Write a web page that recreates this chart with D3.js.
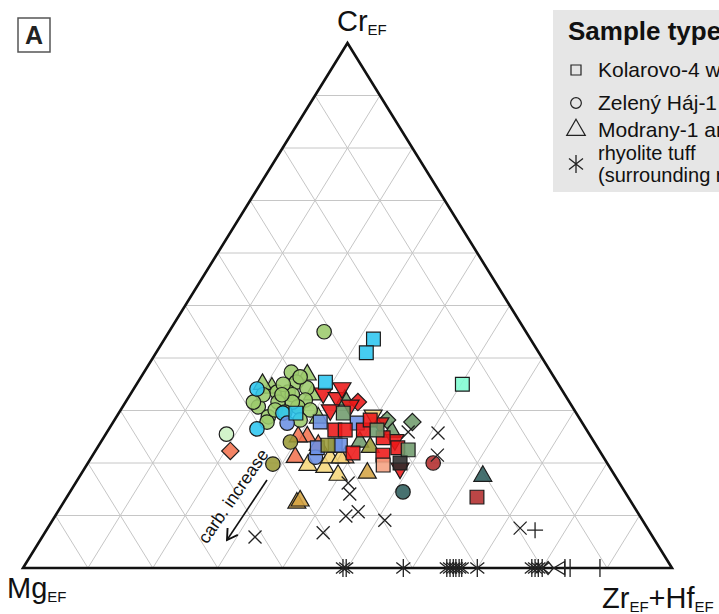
<!DOCTYPE html>
<html>
<head>
<meta charset="utf-8">
<script src="https://cdn.jsdelivr.net/npm/d3@7"></script>
<style>
  body { margin: 0; background: #fff; }
  svg { display: block; font-family: Arial, "Liberation Sans", sans-serif; }
</style>
</head>
<body>
<div id="chart"></div>
<script>
// ternary values in percent: [Cr_EF, Mg_EF, Zr_EF+Hf_EF, sample]
var trianglesUp = [
  [36.8, 37.8, 25.4, "s1"], [34.3, 44.5, 21.2, "s1"], [28.6, 40.2, 31.2, "s1"], [33, 38.9, 28.1, "s1"], [35, 45.6, 19.4, "s1"],
  [32, 34.4, 33.6, "s5"], [25.9, 30.2, 43.9, "s5"], [24, 36.1, 39.9, "s5"],
  [21.1, 47.5, 31.4, "s7"], [25, 43.7, 31.3, "s7"], [25, 45.1, 29.9, "s7"], [23.4, 42.8, 33.8, "s7"],
  [21, 39.9, 39.1, "s15"], [23, 35, 42, "s9"],
  [19.6, 46.3, 34.1, "s10"], [19.2, 43.9, 36.9, "s10"], [17.7, 42.6, 39.7, "s10"], [21, 42.2, 36.8, "s10"], [21, 40.6, 38.4, "s10"],
  [18.1, 37.9, 44, "s11"], [12.4, 51.6, 36, "s11"], [12.8, 50.9, 36.3, "s11"],
  [17.5, 20.4, 62.1, "s12"]
]
var circles = [
  [45, 31.1, 23.9, "s1"], [37.3, 40, 22.7, "s1"], [35.4, 40.2, 24.4, "s1"], [33.5, 44.1, 22.4, "s1"], [33.5, 42.4, 24.1, "s1"],
  [34.3, 39.1, 26.6, "s1"], [30.7, 48.4, 20.9, "s1"], [28.8, 47.8, 23.4, "s1"], [27.8, 48.5, 23.7, "s1"], [31.6, 44.9, 23.5, "s1"],
  [33, 42, 25, "s1"], [32, 40.5, 27.5, "s1"], [30.7, 42.3, 27, "s1"], [31.6, 42.7, 25.7, "s1"], [30.1, 40.7, 29.2, "s1"],
  [35, 42.4, 22.6, "s1"], [36.4, 39.1, 24.5, "s1"], [33, 46.5, 20.5, "s1"], [30.1, 46.1, 23.8, "s1"], [29.7, 44.8, 25.5, "s1"],
  [31.6, 48.7, 19.7, "s1"], [28.2, 43.2, 28.6, "s1"], [33, 43.6, 23.4, "s1"],
  [34.1, 46.9, 19, "s2"], [26.5, 50.7, 22.8, "s2"], [29.5, 45.2, 25.3, "s2"],
  [27.6, 45.5, 26.9, "s3"], [21.1, 44.4, 34.5, "s3"],
  [25.5, 55.9, 18.6, "s8"],
  [19.8, 51.6, 28.6, "s9"], [24, 46.8, 29.2, "s9"],
  [14.5, 34.2, 51.3, "s12"], [20, 26.8, 53.2, "s13"]
]
var diamonds = [
  [31.6, 32.6, 35.8, "s4"], [28.2, 29.8, 42, "s5"], [27.8, 26.1, 46.1, "s5"], [22.3, 56.9, 20.8, "s7"]
]
var trianglesDown = [
  [33.3, 37.1, 29.6, "s4"], [32.4, 35.4, 32.2, "s4"], [30.1, 37.6, 32.3, "s4"], [31, 34.1, 34.9, "s4"],
  [27.6, 31.2, 41.2, "s4"], [24.4, 30.5, 45.1, "s4"], [19, 32.4, 48.6, "s4"], [34.3, 33.7, 32, "s4"],
  [29.1, 31.5, 39.4, "s10"]
]
var squares = [
  [43.6, 24.2, 32.2, "s2"], [41, 26.6, 32.4, "s2"], [35.4, 35.7, 28.9, "s2"], [29.5, 43.2, 27.3, "s2"],
  [27.8, 40.3, 31.9, "s3"], [27.6, 34.7, 37.7, "s3"], [22.9, 43.2, 33.9, "s3"], [23.4, 40.2, 36.4, "s3"], [23.4, 39.4, 37.2, "s3"],
  [26.3, 38.8, 34.9, "s4"], [26.3, 37.2, 36.5, "s4"], [26.3, 34.4, 39.3, "s4"], [24.8, 32.1, 43.1, "s4"],
  [21.9, 38.2, 39.9, "s4"], [21.5, 33.8, 44.7, "s4"], [28.2, 32.4, 39.4, "s4"], [22.9, 30.8, 46.3, "s4"],
  [29.5, 35.9, 34.6, "s5"], [26.3, 32.3, 41.4, "s5"], [22.5, 29.4, 48.1, "s5"], [23.4, 41.3, 35.3, "s9"],
  [20, 31.9, 48.1, "s6"], [19.6, 34.7, 45.7, "s15"], [13.5, 23.3, 63.2, "s13"], [35, 14.8, 50.2, "s14"]
]
var crosses = [
  [25.9, 27.7, 46.4], [25.7, 23.2, 51.1], [21.5, 25.4, 53.1], [16.2, 41.8, 42], [14.1, 42.6, 43.3],
  [9.9, 45.3, 44.8], [10.7, 43, 46.3], [9.1, 39.7, 51.2], [6.7, 50.4, 42.9], [7.6, 19.6, 72.8], [5.9, 61.3, 32.8]
]
var plusses = [[7.2, 17.5, 75.3]]
// rhyolite tuff (surrounding rock), all on the Mg-Zr+Hf edge
var asterisks = [
  [0, 50.7, 49.3], [0, 50.2, 49.8], [0, 41.4, 58.6], [0, 34.7, 65.3], [0, 34.2, 65.8], [0, 33.7, 66.3], [0, 33.3, 66.7],
  [0, 32.8, 67.2], [0, 32.4, 67.6], [0, 30, 70], [0, 21.6, 78.4], [0, 21.1, 78.9], [0, 20.6, 79.4], [0, 20, 80]
]
var openDiamonds = [[0, 19.1, 80.9]]
var openLeftTriangles = [[0, 17.3, 82.7]]
var bars = [[0, 16.5, 83.5], [0, 15.7, 84.3], [0, 11.1, 88.9]]

var samples = ["s1", "s2", "s3", "s4", "s5", "s6", "s7", "s8", "s9", "s10", "s11", "s12", "s13", "s14", "s15"]
var sampleColors = ["#9ccb6c", "#2cc6f0", "#6b8fe4", "#ec1717", "#6f9b6c", "#2b2b2b", "#f27350", "#cdf2c4",
  "#9a9a37", "#f6d77b", "#d5a443", "#2e5d5c", "#b22c2c", "#80fdd2", "#f5a181"]
var gridTicks = [0.1, 0.2, 0.3, 0.4, 0.5, 0.6, 0.7, 0.8, 0.9]
var legendItems = [
  { shape: "square", text: ["Kolarovo-4 well"] },
  { shape: "circle", text: ["Zelený Háj-1 well"] },
  { shape: "triangle", text: ["Modrany-1 and"] },
  { shape: "asterisk", text: ["rhyolite tuff", "(surrounding rock)"] }
]

var width = 719, height = 614;
var svg = d3.select("#chart").append("svg")
  .attr("width", width)
  .attr("height", height)

var color = d3.scaleOrdinal().domain(samples).range(sampleColors)
var x = d3.scaleLinear().domain([0, 1]).range([23, 672])
var y = d3.scaleLinear().domain([0, 1]).range([568, 43])

// [cr, mg, zr] -> pixel
var project = d => {
  var s = d[0] + d[1] + d[2]
  var cr = d[0] / s, zr = d[2] / s
  return [x(zr + cr / 2), y(cr)]
}

// grid
var grid = svg.append("g").attr("stroke", "#c6c6c6").attr("stroke-width", 1).attr("fill", "none")
gridTicks.forEach(t => {
  [[[t, 1 - t, 0], [t, 0, 1 - t]],
   [[0, 1 - t, t], [1 - t, 0, t]],
   [[0, t, 1 - t], [1 - t, t, 0]]].forEach(seg => {
    var a = project(seg[0]), b = project(seg[1])
    grid.append("line").attr("x1", a[0]).attr("y1", a[1]).attr("x2", b[0]).attr("y2", b[1])
  })
})

// frame
var corners = [[1, 0, 0], [0, 1, 0], [0, 0, 1]].map(project)
svg.append("path")
  .attr("d", d3.line()(corners) + "Z")
  .attr("fill", "none")
  .attr("stroke", "#111")
  .attr("stroke-width", 2.6)
  .attr("stroke-linejoin", "miter")

// marks
var marks = svg.append("g")
var tr = d => { var p = project(d); return `translate(${p[0]},${p[1]})` }

function filled(data, type, size, rot) {
  marks.append("g").selectAll("path")
    .data(data)
    .enter().append("path")
    .attr("d", d3.symbol().type(type).size(size))
    .attr("transform", d => tr(d) + (rot ? ` rotate(${rot})` : ""))
    .attr("fill", d => color(d[3]))
    .attr("fill-opacity", 0.88)
    .attr("stroke", "#1c1c1c")
    .attr("stroke-width", 1.2)
}
filled(trianglesUp, d3.symbolTriangle, 140, 0)
filled(circles, d3.symbolCircle, 165, 0)
filled(diamonds, d3.symbolSquare, 150, 45)
filled(trianglesDown, d3.symbolTriangle, 140, 180)
filled(squares, d3.symbolSquare, 190, 0)

function stroked(data, path) {
  marks.append("g").selectAll("path")
    .data(data)
    .enter().append("path")
    .attr("d", path)
    .attr("transform", tr)
    .attr("fill", "none")
    .attr("stroke", "#222")
    .attr("stroke-width", 1.3)
}
var xPath = "M-6.5,-6.5L6.5,6.5M-6.5,6.5L6.5,-6.5"
var plusPath = "M-8,0H8M0,-8V8"
var starPath = "M0,-9V9M-7,-5.5L7,5.5M-7,5.5L7,-5.5"
stroked(crosses, xPath)
stroked(plusses, plusPath)
stroked(asterisks, starPath)
stroked(openDiamonds, "M0,-6.5L5.5,0L0,6.5L-5.5,0Z")
stroked(openLeftTriangles, "M5,-6.5L-6,0L5,6.5Z")
stroked(bars, "M0,-9V9")

// arrow: carbonate increase
var arrowFrom = [267, 480], arrowTo = [227, 540]
svg.append("line")
  .attr("x1", arrowFrom[0]).attr("y1", arrowFrom[1])
  .attr("x2", arrowTo[0]).attr("y2", arrowTo[1])
  .attr("stroke", "#111").attr("stroke-width", 1.6)
var ang = Math.atan2(arrowTo[1] - arrowFrom[1], arrowTo[0] - arrowFrom[0])
var head = [ang + 2.6, ang - 2.6].map(a => [arrowTo[0] + 12 * Math.cos(a), arrowTo[1] + 12 * Math.sin(a)])
svg.append("path")
  .attr("d", `M${head[0]}L${arrowTo}L${head[1]}`)
  .attr("fill", "none").attr("stroke", "#111").attr("stroke-width", 1.9)
svg.append("text")
  .attr("transform", "translate(233,496) rotate(-55.5)")
  .attr("text-anchor", "middle")
  .attr("dy", "0.35em")
  .style("font-size", "17.5px")
  .attr("fill", "#111")
  .text("carb. increase")

// corner labels
function label(xp, yp, parts, anchor) {
  var t = svg.append("text").attr("x", xp).attr("y", yp).attr("text-anchor", anchor || "start")
    .attr("fill", "#111").style("font-size", "29px")
  parts.forEach(p => {
    t.append("tspan").text(p[0]).style("font-size", p[1] ? "15px" : "29px").attr("dy", p[1] ? 4 : (p[2] || 0))
  })
}
label(337, 31, [["Cr"], ["EF", true]])
label(7, 598, [["Mg"], ["EF", true]])
label(602, 608, [["Zr"], ["EF", true], ["+", false, -4], ["Hf"], ["EF", true]])

// panel letter
svg.append("rect").attr("x", 18).attr("y", 18).attr("width", 32).attr("height", 34)
  .attr("fill", "#fff").attr("stroke", "#555").attr("stroke-width", 1.5)
svg.append("text").attr("x", 34).attr("y", 44).attr("text-anchor", "middle")
  .style("font-size", "25px").style("font-weight", "bold").attr("fill", "#222").text("A")

// legend
var lg = svg.append("g")
lg.append("rect").attr("x", 553).attr("y", 10).attr("width", 180).attr("height", 182).attr("fill", "#e6e6e6")
lg.append("text").attr("x", 568).attr("y", 40).style("font-size", "26px").style("font-weight", "bold")
  .attr("fill", "#111").text("Sample type")
var rowY = [70, 103, 130, 164]
legendItems.forEach((it, i) => {
  var g = lg.append("g").attr("transform", `translate(576,${rowY[i]})`)
  if (it.shape === "asterisk") {
    g.append("path").attr("d", starPath).attr("stroke", "#222").attr("stroke-width", 1.3).attr("fill", "none")
  } else {
    var type = { square: d3.symbolSquare, circle: d3.symbolCircle, triangle: d3.symbolTriangle }[it.shape]
    var sz = { square: 100, circle: 90, triangle: 150 }[it.shape]
    g.append("path").attr("d", d3.symbol().type(type).size(sz)).attr("fill", "none")
      .attr("stroke", "#222").attr("stroke-width", 1.2)
  }
  it.text.forEach((s, j) => {
    g.append("text").attr("x", 22).attr("y", (j - (it.text.length - 1) / 2) * 22).attr("dy", "0.35em")
      .style("font-size", it.text.length > 1 ? "20px" : "21px").attr("fill", "#111").text(s)
  })
})
</script>
</body>
</html>
